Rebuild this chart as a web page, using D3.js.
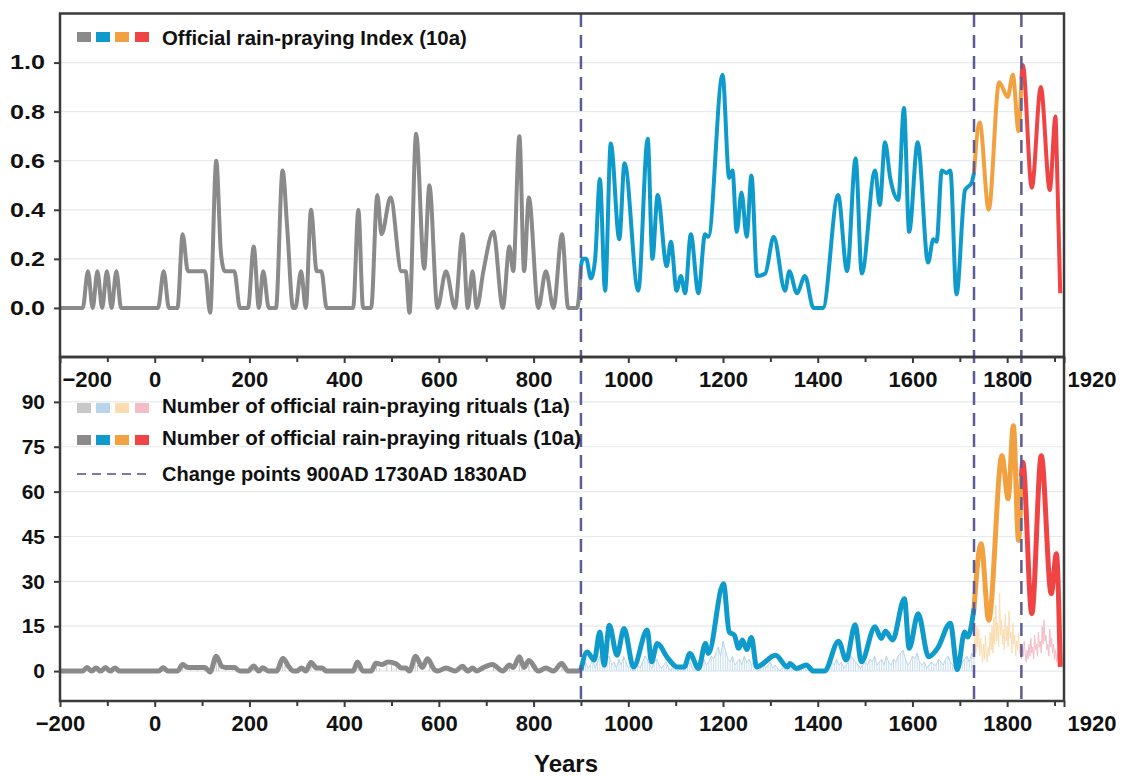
<!DOCTYPE html>
<html>
<head>
<meta charset="utf-8">
<style>
  body { margin: 0; background: #fff; }
  svg text { font-family: "Liberation Sans", Arial, sans-serif; font-weight: bold; fill: #111; }
</style>
</head>
<body>
<div id="chart"></div>
<script src="https://d3js.org/d3.v7.min.js"></script>
<script>

// ---- official rain-praying index (10a), [year, value] ----
var idxGray = [[-200,0],[-152,0],[-141,0.15],[-131,0],[-121,0.15],[-111,0],[-101,0.15],[-91,0],[-81,0.15],[-71,0],
  [7,0],[19,0.15],[30,0],[48,0],[59,0.30],[70,0.15],[106,0.15],[117,-0.02],[130,0.60],[140,0.22],[148,0.15],[168,0.15],
  [180,0],[197,0],[209,0.25],[220,0],[229,0.15],[241,0],[256,0],[270,0.56],[280,0.32],[292,0],[297,0],[309,0.15],[319,0],
  [330,0.40],[342,0.15],[352,0.15],[363,0],[419,0],[430,0.40],[440,0],[457,0],[470,0.46],[479,0.30],[498,0.45],[521,0.15],
  [530,0.15],[538,-0.02],[552,0.71],[569,0.16],[580,0.50],[597,0],[615,0.15],[634,0],[650,0.30],[661,0],[671,0.15],[680,0],
  [694,0.15],[715,0.31],[735,0],[749,0.25],[757,0.15],[770,0.70],[780,0.15],[790,0.45],[810,0],[826,0.15],[842,0],
  [860,0.30],[873,0],[892,0],[900,0.17]];
var idxBlue = [[900,0.17],[904,0.20],[911,0.20],[921,0.12],[930,0.20],[940,0.525],[951,0.07],[963,0.67],[981,0.28],[992,0.59],
  [1021,0.07],[1041,0.69],[1051,0.20],[1062,0.46],[1081,0.17],[1090,0.27],[1102,0.07],[1111,0.13],[1120,0.06],[1132,0.30],
  [1148,0.06],[1162,0.30],[1169,0.29],[1199,0.95],[1213,0.53],[1220,0.56],[1229,0.31],[1239,0.47],[1250,0.29],[1260,0.54],
  [1272,0.13],[1289,0.14],[1307,0.29],[1331,0.07],[1340,0.15],[1356,0.06],[1373,0.13],[1391,0],[1411,0],[1443,0.46],
  [1462,0.15],[1480,0.61],[1493,0.14],[1521,0.56],[1531,0.42],[1542,0.675],[1553,0.53],[1570,0.44],[1582,0.815],[1593,0.31],
  [1611,0.675],[1633,0.185],[1644,0.28],[1651,0.27],[1662,0.56],[1672,0.55],[1680,0.56],[1693,0.055],[1711,0.48],[1725,0.51],
  [1730,0.55]];
var idxOrange = [[1730,0.55],[1742,0.756],[1761,0.40],[1783,0.92],[1801,0.86],[1812,0.95],[1824,0.72],[1830,0.93]];
var idxRed = [[1830,0.93],[1833,0.99],[1852,0.49],[1871,0.90],[1890,0.48],[1902,0.78],[1905,0.60],[1912,0.06]];

// ---- number of rituals (10a), [year, value] ----
var ritGray = [[-200,0],[-152,0],[-143,1.2],[-133,0],[-124,1],[-114,0],[-104,1.2],[-94,0],[-84,1],[-74,0],[8,0],[18,1.1],[28,0],
  [48,0],[59,2.2],[70,1.2],[106,1.2],[117,-0.3],[130,5],[142,1.5],[150,1.2],[168,1.2],[180,0],[197,0],[209,1.7],[220,0],
  [228,1.1],[240,0],[257,0],[271,4.2],[283,1.5],[293,0],[300,0],[310,1],[319,0],[330,2.9],[342,1],[353,1],[363,0],[419,0],
  [428,3],[440,0],[457,0],[467,2.6],[480,2.2],[492,3],[509,2.5],[521,1],[530,1],[538,0],[551,5],[565,1.2],[576,4.1],
  [590,0.6],[597,0],[615,1],[634,0],[650,1.6],[661,0],[671,1],[680,0],[694,1.2],[713,2.2],[735,0],[749,2],[757,1.2],
  [770,4.8],[780,1.2],[790,3.5],[810,0],[826,1],[842,0],[859,2.5],[873,0],[892,0],[900,0.3]];
var ritBlue = [[900,0.3],[913,6.4],[928,3.7],[940,13.1],[949,2],[960,15.3],[976,5.3],[991,14.2],[1011,1.4],[1040,13.7],
  [1049,3.1],[1061,9.2],[1084,4.2],[1103,1.4],[1118,1.4],[1130,5.9],[1148,0.9],[1163,9.2],[1169,5.9],[1201,29.2],[1213,13.1],
  [1224,12],[1233,7.6],[1241,10.4],[1250,7.2],[1260,11.2],[1271,1.4],[1311,5.3],[1336,1.4],[1341,2.5],[1355,0.9],[1376,2],
  [1391,0],[1414,0],[1444,10],[1460,3.7],[1479,15.5],[1492,3.1],[1521,14.8],[1534,10.9],[1543,13.3],[1558,10.4],[1583,24.2],
  [1593,7.6],[1612,19.2],[1634,4.8],[1653,7.6],[1680,16],[1695,0.5],[1710,13.1],[1717,11.4],[1730,21]];
var ritOrange = [[1730,21],[1745,42.6],[1761,17],[1789,72],[1802,57.6],[1813,82],[1824,43.7],[1830,65]];
var ritRed = [[1830,65],[1833,69.8],[1852,19.2],[1872,72],[1893,25.9],[1904,39.2],[1912,1.4]];

// ---- number of rituals (1a), light spikes ----
var rit1aGray = [[-141,1],[-121,1],[-101,1],[-81,1],[19,1],[59,2],[75,1],[90,1],[105,1],[130,3],[135,2],[150,1],[165,1],
  [209,2],[229,1],[270,3],[275,2],[309,1],[330,2],[350,1],[430,2],[468,2],[475,1],[490,2],[500,2],[510,1],[550,3],[555,2],
  [580,3],[615,1],[650,2],[671,1],[694,1],[715,2],[749,2],[770,3],[775,2],[790,2],[826,1],[860,2]];
var rit1aBlueStart = 900, rit1aBlueStep = 5;
var rit1aBlue = [0,2,3,1,2,4,1,3,5,2,1,4,5,2,3,1,4,2,5,3,1,2,0,1,2,1,3,5,4,2,1,3,4,2,1,2,3,1,0,2,1,0,1,0,1,2,3,1,0,1,
  2,1,4,2,3,5,4,6,8,5,10,7,4,3,5,2,3,4,2,5,3,4,2,3,1,0,1,2,1,2,3,1,2,1,0,1,1,0,2,0,1,0,1,0,2,0,1,0,0,0,0,0,0,1,2,1,
  3,2,4,2,3,1,2,3,5,4,3,2,1,2,3,2,4,3,5,2,3,4,2,5,3,2,4,3,5,6,7,4,2,3,5,4,6,3,2,3,1,2,3,2,2,4,3,2,4,5,3,2,1,0,2,3,
  4,5,3,6,4];
var rit1aOrangeStart = 1730, rit1aOrangeStep = 2;
var rit1aOrange = [4,12,6,15,8,14,5,11,7,3,9,4,12,6,3,8,5,13,7,15,6,18,9,22,10,16,8,26,12,17,9,14,7,19,10,15,8,20,11,13,
  6,16,9,12,5,10,7,13,6,9,4];
var rit1aRedStart = 1830, rit1aRedStep = 2;
var rit1aRed = [4,8,5,10,6,3,7,4,9,5,11,6,8,4,12,7,9,5,13,8,10,6,15,9,17,10,12,7,9,5,14,8,11,6,9,4,7,3,6,3,4,2];

var changePoints = [900, 1730, 1830];
var xMajor = [-200, 0, 200, 400, 600, 800, 1000, 1200, 1400, 1600, 1800, 1920];
var xMinor = [-100, 100, 300, 500, 700, 900, 1100, 1300, 1500, 1700, 1900];
var yTopTicks = [0, 0.2, 0.4, 0.6, 0.8, 1.0];
var yBotTicks = [0, 15, 30, 45, 60, 75, 90];

var colDark = ["#8a8a8a", "#0e9bcc", "#f1a13f", "#f04444"];
var colLight = ["#c8c8c8", "#b8d5ec", "#fcdcb0", "#f3bcc6"];

let width = 1124, height = 776;
let svg = d3.select("#chart").append("svg").attr("width", width).attr("height", height);

let x = d3.scaleLinear().domain([-200, 1920]).range([60, 1064]);
let yTop = d3.scaleLinear().domain([-0.2, 1.2]).range([357, 13.5]);
let yBot = d3.scaleLinear().domain([-10, 105]).range([701, 357]);

// gridlines
svg.append("g").selectAll("line").data(yTopTicks).enter().append("line")
  .attr("x1", 61).attr("x2", 1063).attr("y1", d => yTop(d)).attr("y2", d => yTop(d))
  .attr("stroke", "#e4eaee").attr("stroke-width", 1.2);
svg.append("g").selectAll("line").data(yBotTicks).enter().append("line")
  .attr("x1", 61).attr("x2", 1063).attr("y1", d => yBot(d)).attr("y2", d => yBot(d))
  .attr("stroke", "#e4eaee").attr("stroke-width", 1.2);

// 1a light series
let line1a = d3.line().x(d => x(d[0])).y(d => yBot(d[1]));
svg.append("g").selectAll("line").data(rit1aGray).enter().append("line")
  .attr("x1", d => x(d[0])).attr("x2", d => x(d[0]))
  .attr("y1", yBot(0)).attr("y2", d => yBot(d[1]))
  .attr("stroke", colLight[0]).attr("stroke-width", 1);
[[rit1aBlue, rit1aBlueStart, rit1aBlueStep, colLight[1], true],
 [rit1aOrange, rit1aOrangeStart, rit1aOrangeStep, colLight[2], false],
 [rit1aRed, rit1aRedStart, rit1aRedStep, colLight[3], false]].forEach(function (s) {
  let pts = s[0].map((v, i) => [s[1] + i * s[2], v]);
  if (s[4]) {
    // stems for the sparser blue part, fuzzy annual look
    svg.append("g").selectAll("line").data(pts).enter().append("line")
      .attr("x1", d => x(d[0])).attr("x2", d => x(d[0]))
      .attr("y1", yBot(0)).attr("y2", d => yBot(d[1]))
      .attr("stroke", s[3]).attr("stroke-width", 0.8);
  }
  svg.append("path").attr("d", line1a(pts))
    .attr("fill", "none").attr("stroke", s[3]).attr("stroke-width", 1);
});

// 10a lines
let lineTop = d3.line().curve(d3.curveMonotoneX).x(d => x(d[0])).y(d => yTop(d[1]));
let lineBot = d3.line().curve(d3.curveMonotoneX).x(d => x(d[0])).y(d => yBot(d[1]));
[idxGray, idxBlue, idxOrange, idxRed].forEach(function (s, i) {
  svg.append("path").attr("d", lineTop(s)).attr("fill", "none")
    .attr("stroke", colDark[i]).attr("stroke-width", 4).attr("stroke-linejoin", "round");
});
[ritGray, ritBlue, ritOrange, ritRed].forEach(function (s, i) {
  svg.append("path").attr("d", lineBot(s)).attr("fill", "none")
    .attr("stroke", colDark[i]).attr("stroke-width", 5).attr("stroke-linejoin", "round");
});

// change points
svg.append("g").selectAll("line").data(changePoints).enter().append("line")
  .attr("x1", d => x(d)).attr("x2", d => x(d)).attr("y1", 14).attr("y2", 700)
  .attr("stroke", "#5c5c98").attr("stroke-width", 2.5).attr("stroke-dasharray", "13,8");

// frames
svg.append("rect").attr("x", 60).attr("y", 13.5).attr("width", 1004).attr("height", 343.5)
  .attr("fill", "none").attr("stroke", "#3a3a3a").attr("stroke-width", 2.5);
svg.append("rect").attr("x", 60).attr("y", 357).attr("width", 1004).attr("height", 344)
  .attr("fill", "none").attr("stroke", "#3a3a3a").attr("stroke-width", 2.5);

// axes
function styleAxis(g) {
  g.select(".domain").remove();
  g.selectAll(".tick line").attr("stroke", "#3a3a3a").attr("stroke-width", 2);
  g.selectAll(".tick text").attr("fill", "#111");
}
let fmtX = d => (d < 0 ? "\u2212" + Math.abs(d) : d);

let axTopY = svg.append("g").attr("transform", "translate(60,0)")
  .call(d3.axisLeft(yTop).tickValues(yTopTicks).tickSize(6).tickPadding(9).tickFormat(d3.format(".1f")));
axTopY.call(styleAxis);
axTopY.selectAll(".tick text").style("font-size", "20px")
  .attr("textLength", 35).attr("lengthAdjust", "spacingAndGlyphs");

let axBotY = svg.append("g").attr("transform", "translate(60,0)")
  .call(d3.axisLeft(yBot).tickValues(yBotTicks).tickSize(6).tickPadding(9));
axBotY.call(styleAxis);
axBotY.selectAll(".tick text").style("font-size", "21px");

[357, 701].forEach(function (yy, k) {
  let gMinor = svg.append("g").attr("transform", "translate(0," + yy + ")")
    .call(d3.axisBottom(x).tickValues(xMinor).tickSize(5).tickFormat(""));
  gMinor.call(styleAxis);
  let gMajor = svg.append("g").attr("transform", "translate(0," + yy + ")")
    .call(d3.axisBottom(x).tickValues(xMajor).tickSize(6).tickPadding(8).tickFormat(fmtX));
  gMajor.call(styleAxis);
  gMajor.selectAll(".tick text").style("font-size", "22px");
  gMajor.selectAll(".tick").filter(d => d === 1920).select("text")
    .attr("text-anchor", "start").attr("x", 3);
  if (k === 0) {
    gMajor.selectAll(".tick").filter(d => d === -200).select("text")
      .attr("text-anchor", "start").attr("x", 2);
  }
});

// axis title
svg.append("text").attr("x", 566).attr("y", 772).attr("text-anchor", "middle")
  .style("font-size", "24px").text("Years");

// legend, top panel
let sqX = [77, 96, 115, 135];
svg.append("g").selectAll("rect").data(colDark).enter().append("rect")
  .attr("x", (d, i) => sqX[i]).attr("y", 32).attr("width", 14).attr("height", 10).attr("fill", d => d);
svg.append("text").attr("x", 162).attr("y", 45).style("font-size", "20.4px")
  .text("Official rain-praying Index (10a)");

// legend, bottom panel
svg.append("g").selectAll("rect").data(colLight).enter().append("rect")
  .attr("x", (d, i) => sqX[i]).attr("y", 403).attr("width", 14).attr("height", 10).attr("fill", d => d);
svg.append("text").attr("x", 162).attr("y", 413).style("font-size", "20.5px")
  .text("Number of official rain-praying rituals (1a)");
svg.append("g").selectAll("rect").data(colDark).enter().append("rect")
  .attr("x", (d, i) => sqX[i]).attr("y", 435).attr("width", 14).attr("height", 10).attr("fill", d => d);
svg.append("text").attr("x", 162).attr("y", 445).style("font-size", "20.5px")
  .text("Number of official rain-praying rituals (10a)");
svg.append("line").attr("x1", 77).attr("x2", 149).attr("y1", 474).attr("y2", 474)
  .attr("stroke", "#7a7aa6").attr("stroke-width", 2).attr("stroke-dasharray", "9,6");
svg.append("text").attr("x", 162).attr("y", 481).style("font-size", "20px")
  .text("Change points 900AD 1730AD 1830AD");

</script>
</body>
</html>
